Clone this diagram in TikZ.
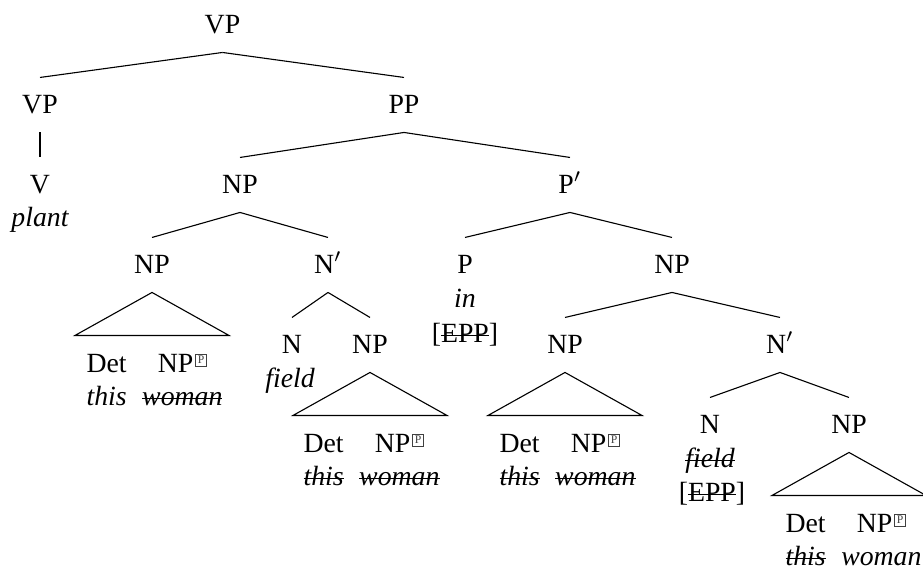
\documentclass[tikz,border=0pt]{standalone}
\usepackage{fontspec}
\setmainfont{Liberation Serif}
\usepackage{xcolor}
\usepackage{tikz}

\newsavebox{\strkbox}
\newcommand{\strk}[1]{\sbox{\strkbox}{#1}\rlap{\usebox{\strkbox}}\rule[0.5ex]{\wd\strkbox}{0.4pt}}
\newcommand{\boxp}{\kern0.7pt\raisebox{2.9pt}{\color{darkgray}\setlength{\fboxsep}{0.6pt}\setlength{\fboxrule}{0.3pt}\fbox{\fontsize{4.2pt}{5pt}\selectfont P}}}

\begin{document}
\begin{tikzpicture}[
        x=0.36pt, y=-0.36pt,
        cat/.style  = {inner xsep=0pt, inner ysep=6.1pt, text height=6.5pt, text depth=0.7pt, anchor=base},
        word/.style = {inner sep=0pt, anchor=base, font=\itshape},
        feat/.style = {inner sep=0pt, anchor=base},
        roofed/.style = {inner sep=0pt, anchor=base west}
    ]
        \useasboundingbox (0,0) rectangle (923,569);
        % categories
        \node[cat] (vp0) at (222.5,33) {VP};
        \node[cat] (vp1) at (40,113) {VP};
        \node[cat] (pp) at (404,113) {PP};
        \node[cat] (v) at (40,193) {V};
        \node[cat] (np0) at (240,193) {NP};
        \node[cat] (pbar) at (570,193) {P$'$};
        \node[cat] (npa) at (152,273) {NP};
        \node[cat] (nbar1) at (328,273) {N$'$};
        \node[cat] (p) at (465,273) {P};
        \node[cat] (np1) at (672,273) {NP};
        \node[cat] (n1) at (292,353) {N};
        \node[cat] (npb) at (370,353) {NP};
        \node[cat] (npc) at (565,353) {NP};
        \node[cat] (nbar2) at (780,353) {N$'$};
        \node[cat] (n2) at (710,433) {N};
        \node[cat] (npd) at (849,433) {NP};
        % words
        \node[word] (plant) at (40,226) {plant};
        \node[word] (in) at (465,307) {in};
        \node[feat] (epp1) at (465,342) {[\strk{EPP}]};
        \node[word] (field1) at (290,387) {field};
        \node[word] (field2) at (710,467) {\strk{field}};
        \node[feat] (epp2) at (712,501) {[\strk{EPP}]};
        % roofed phrases
        \node[roofed] (ra) at (86,372) {\begin{tabular}[t]{@{}c@{\hspace{5.6pt}}c@{}}Det & NP\boxp\\ \textit{this} & \textit{\strk{woman}}\end{tabular}};
        \node[roofed] (rb) at (303,452) {\begin{tabular}[t]{@{}c@{\hspace{5.6pt}}c@{}}Det & NP\boxp\\ \textit{\strk{this}} & \textit{\strk{woman}}\end{tabular}};
        \node[roofed] (rc) at (499,452) {\begin{tabular}[t]{@{}c@{\hspace{5.6pt}}c@{}}Det & NP\boxp\\ \textit{\strk{this}} & \textit{\strk{woman}}\end{tabular}};
        \node[roofed] (rd) at (785,532) {\begin{tabular}[t]{@{}c@{\hspace{5.6pt}}c@{}}Det & NP\boxp\\ \textit{\strk{this}} & \textit{woman}\end{tabular}};
        % branches
        \draw (vp0.south) -- (vp1.north);
        \draw (vp0.south) -- (pp.north);
        \draw (vp1.south) -- (v.north);
        \draw (pp.south) -- (np0.north);
        \draw (pp.south) -- (pbar.north);
        \draw (np0.south) -- (npa.north);
        \draw (np0.south) -- (nbar1.north);
        \draw (pbar.south) -- (p.north);
        \draw (pbar.south) -- (np1.north);
        \draw (nbar1.south) -- (n1.north);
        \draw (nbar1.south) -- (npb.north);
        \draw (np1.south) -- (npc.north);
        \draw (np1.south) -- (nbar2.north);
        \draw (nbar2.south) -- (n2.north);
        \draw (nbar2.south) -- (npd.north);
        % roofs
        \draw (npa.south) -- +(-77,43) -- +(77,43) -- cycle;
        \draw (npb.south) -- +(-77,43) -- +(77,43) -- cycle;
        \draw (npc.south) -- +(-77,43) -- +(77,43) -- cycle;
        \draw (npd.south) -- +(-77,43) -- +(77,43) -- cycle;
    \end{tikzpicture}
\end{document}
